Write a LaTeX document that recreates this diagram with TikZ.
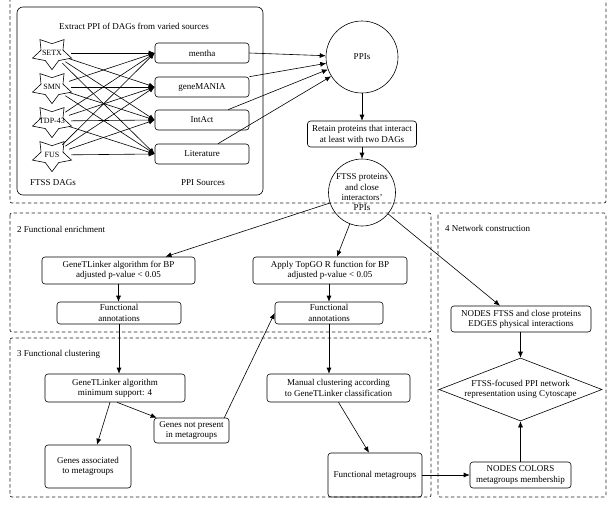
\documentclass[tikz,border=0pt]{standalone}
\usepackage{fontspec}
\setmainfont{Liberation Serif}
\usetikzlibrary{shapes.geometric,arrows.meta,calc}
\newcommand{\fs}{\fontsize{9}{10.3}\selectfont}
\begin{document}
\begin{tikzpicture}[x=1pt,y=-1pt,
  box/.style={draw, rounded corners=3pt, align=center, font=\fs, inner sep=1pt, line width=0.6pt},
  txt/.style={font=\fs, align=center, inner sep=0pt},
  arr/.style={-{Latex[length=6pt,width=5pt]}, line width=0.6pt},
  ln/.style={line width=0.6pt},
  frame/.style={draw=black!85, dash pattern=on 3.5pt off 2.5pt, line width=0.7pt, rounded corners=2pt},
  dag/.style={ellipse, minimum width=38pt, minimum height=24pt, inner sep=0pt, font=\fontsize{8}{9}\selectfont},
  circ/.style={draw, circle, align=center, font=\fs, inner sep=0pt, line width=0.6pt}
]
\useasboundingbox (0,0) rectangle (611,504);
% dashed frames
\draw[frame] (10,-4) rectangle (606,203);
\draw[frame] (10,213) rectangle (431,332);
\draw[frame] (10,338) rectangle (431,497);
\draw[frame] (438,213) rectangle (606,497);
% section 1
\draw[ln, rounded corners=6pt] (17,7) rectangle (263,195);
\node[txt] (title) at (134,26) {Extract PPI of DAGs from varied sources};
\node[dag] (SETX) at (52,53) {SETX};
\node[dag] (SMN) at (52,87) {SMN};
\node[dag] (TDP) at (52,121) {TDP-43};
\node[dag] (FUS) at (52,155) {FUS};
\foreach \s in {SETX,SMN,TDP,FUS}{
  \draw[ln, shift={(\s.center)}, yscale=0.81]
    (90:20.5) -- (126:11.5) -- (162:20.5) -- (198:11.5) -- (234:20.5) -- (270:11.5)
    -- (306:20.5) -- (342:11.5) -- (18:20.5) -- (54:11.5) -- cycle;
}
\node[box, minimum width=94pt, minimum height=20pt] (mentha) at (202,53) {mentha};
\node[box, minimum width=94pt, minimum height=20pt] (gene) at (202,87) {geneMANIA};
\node[box, minimum width=94pt, minimum height=20pt] (intact) at (202,120) {IntAct};
\node[box, minimum width=94pt, minimum height=20pt] (lit) at (202,154) {Literature};
\node[txt] (ftssdags) at (53,183) {FTSS DAGs};
\node[txt] (ppisrc) at (203,183) {PPI Sources};
\foreach \s in {SETX,SMN,TDP,FUS}{
  \foreach \t in {mentha,gene,intact,lit}{
    \draw[arr] (\s) -- (\t.west);
  }
}
\node[circ, minimum size=72pt] (PPIs) at (362,57) {PPIs};
\draw[arr] (mentha.east) -- (PPIs.178);
\draw[arr] (gene.north east) -- (PPIs.190);
\draw[arr] ($(intact.north)+(26,0)$) -- (PPIs.200);
\draw[arr] ($(lit.north)+(16,0)$) -- (PPIs.212);
\node[box, minimum width=109pt, minimum height=26pt] (retain) at (362,134) {Retain proteins that interact\\at least with two DAGs};
\node[circ, minimum size=67pt] (FTSS) at (362,192.5) {FTSS proteins\\and close\\interactors'\\PPIs};
\draw[arr] (PPIs) -- (retain);
\draw[arr] (retain) -- (FTSS);
% section 2
\node[txt, anchor=west] (l2) at (17,229) {2 Functional enrichment};
\node[box, minimum width=153pt, minimum height=27pt] (gBP) at (118.5,270.5) {GeneTLinker algorithm for BP\\adjusted p-value < 0.05};
\node[box, minimum width=124pt, minimum height=22pt] (FA1) at (119,313) {Functional\\annotations};
\node[box, minimum width=154pt, minimum height=27pt] (topgo) at (330,270.5) {Apply TopGO R function for BP\\adjusted p-value < 0.05};
\node[box, minimum width=108pt, minimum height=22pt] (FA2) at (329,313) {Functional\\annotations};
\draw[arr] (FTSS) -- ($(gBP.north)+(47,0)$);
\draw[arr] (FTSS) -- ($(topgo.north)+(7,0)$);
\draw[arr] (gBP.south) -- (gBP.south |- FA1.north);
\draw[arr] (topgo.south -| FA2.north) -- (FA2.north);
% section 4
\node[txt, anchor=west] (l4) at (445,228) {4 Network construction};
\node[box, minimum width=140pt, minimum height=26pt] (nodes1) at (521,319) {NODES FTSS and close proteins\\EDGES physical interactions};
\node[draw, diamond, minimum width=163pt, minimum height=63pt, inner sep=0pt, line width=0.6pt] (net) at (520.5,389.5) {};
\node[txt] (nettxt) at (net) {FTSS-focused PPI network\\representation using Cytoscape};
\node[box, minimum width=101pt, minimum height=26pt] (ncol) at (520.5,475) {NODES COLORS\\metagroups membership};
\draw[arr] (FTSS) -- ($(nodes1.north)+(-21,0)$);
\draw[arr] (nodes1.south -| net.north) -- (net.north);
\draw[arr] (ncol.north) -- (net.south);
% section 3
\node[txt, anchor=west] (l3) at (17,354) {3 Functional clustering};
\node[box, minimum width=140pt, minimum height=28pt] (gmin) at (115,388) {GeneTLinker algorithm\\minimum support: 4};
\node[box, minimum width=75pt, minimum height=25pt] (gnp) at (191.5,430.5) {Genes not present\\in metagroups};
\node[box, minimum width=86pt, minimum height=43pt] (gassoc) at (88,466.5) {Genes associated\\to metagroups};
\node[box, minimum width=143pt, minimum height=28pt] (manual) at (338.5,388) {Manual clustering according\\to GeneTLinker classification};
\node[box, minimum width=94pt, minimum height=44pt] (fmeta) at (375,475) {Functional metagroups};
\draw[arr] (FA1.south) -- (FA1.south |- gmin.north);
\draw[arr] (FA2.south) -- (FA2.south |- manual.north);
\draw[arr] ($(gmin.south)+(-5,0)$) -- ($(gassoc.north)+(9,0)$);
\draw[arr] ($(gmin.south)+(2,0)$) -- ($(gnp.north west)+(3,0)$);
\draw[arr] ($(gnp.north east)+(-5,0)$) -- (FA2.west);
\draw[arr] (manual.south) -- ($(fmeta.north)+(-6,0)$);
\draw[arr] (fmeta.east) -- (ncol.west);
\end{tikzpicture}
\end{document}
